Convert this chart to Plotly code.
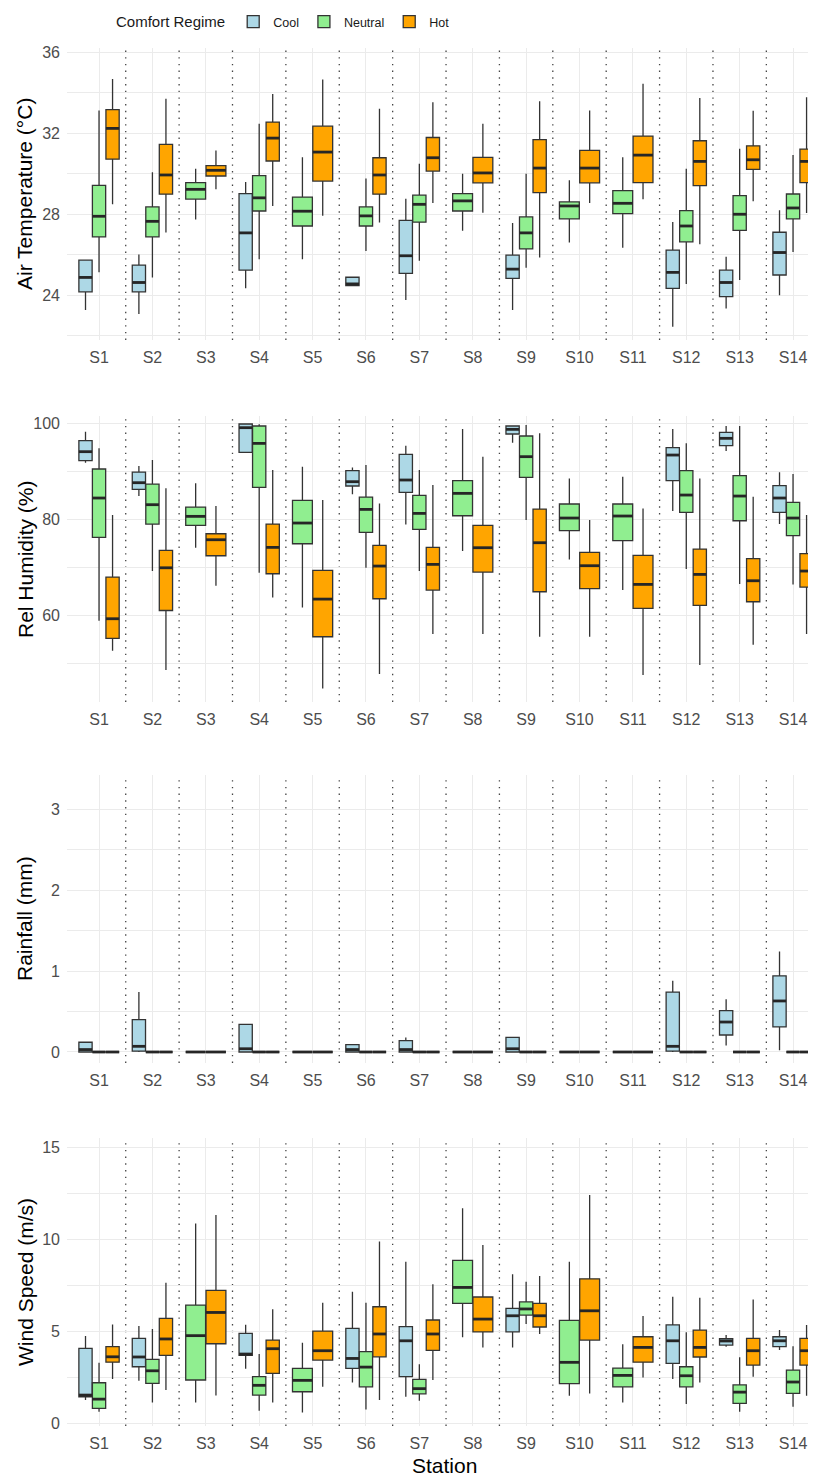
import plotly.graph_objects as go

# ---------------- data ----------------
stations = [f"S{i}" for i in range(1, 15)]
regimes = ["Cool", "Neutral", "Hot"]
regime_colors = {"Cool": "#ADD8E6", "Neutral": "#90EE90", "Hot": "#FFA500"}

# each entry: (lower whisker, Q1, median, Q3, upper whisker); None = regime absent at station
temp_cool = [(23.26, 24.16, 24.87, 25.72, 25.72), (23.06, 24.16, 24.62, 25.48, 26.00), None,
             (24.33, 25.23, 27.07, 29.01, 29.58), None, (24.47, 24.47, 24.55, 24.88, 24.88),
             (23.75, 25.07, 25.94, 27.69, 28.76), None, (23.26, 24.82, 25.28, 25.97, 27.56),
             None, None, (22.44, 24.33, 25.12, 26.22, 27.61), (23.34, 23.92, 24.62, 25.23, 25.89),
             (23.99, 24.99, 26.10, 27.10, 28.19)]
temp_neutral = [(25.12, 26.87, 27.89, 29.42, 33.11), (24.87, 26.87, 27.64, 28.35, 30.07),
                (27.73, 28.74, 29.22, 29.55, 30.24), (25.77, 28.15, 28.80, 29.90, 32.46),
                (25.77, 27.41, 28.14, 28.84, 30.81), (26.18, 27.41, 27.91, 28.35, 29.75),
                (25.69, 27.60, 28.48, 28.93, 30.49), (27.17, 28.15, 28.65, 29.01, 29.99),
                (25.35, 26.28, 27.07, 27.86, 29.99), (26.59, 27.76, 28.40, 28.60, 29.67),
                (26.34, 28.02, 28.53, 29.16, 30.81), (24.54, 26.63, 27.41, 28.17, 30.24),
                (24.74, 27.19, 27.99, 28.91, 31.23), (26.12, 27.76, 28.30, 28.99, 30.92)]
temp_hot = [(28.48, 30.71, 32.23, 33.16, 34.67), (27.09, 28.98, 29.93, 31.44, 33.69),
            (29.22, 29.88, 30.16, 30.39, 31.14), (28.40, 30.62, 31.75, 32.54, 33.93),
            (27.91, 29.63, 31.06, 32.34, 34.64), (27.58, 28.98, 29.93, 30.78, 33.20),
            (28.55, 30.12, 30.78, 31.78, 33.52), (28.07, 29.54, 30.03, 30.80, 32.46),
            (25.86, 29.06, 30.27, 31.68, 33.57), (28.55, 29.54, 30.27, 31.14, 33.11),
            (28.73, 29.55, 30.91, 31.85, 34.43), (26.51, 29.40, 30.60, 31.62, 33.73),
            (28.63, 30.21, 30.68, 31.37, 33.10), (28.05, 29.55, 30.60, 31.21, 33.77)]

rh_cool = [(91.73, 92.15, 94.03, 96.32, 98.19), (84.79, 86.18, 87.57, 89.79, 91.04), None,
           (93.89, 93.89, 99.03, 99.79, 99.79), None, (85.14, 86.88, 87.78, 90.07, 90.76),
           (78.89, 85.56, 88.13, 93.47, 95.28), None, (95.90, 97.71, 98.68, 99.38, 99.38),
           None, None, (81.67, 87.99, 93.33, 94.86, 98.75), (94.17, 95.28, 96.81, 98.06, 99.38),
           (78.96, 81.39, 84.38, 86.94, 89.72)]
rh_neutral = [(58.82, 76.18, 84.38, 90.42, 94.72), (69.17, 78.96, 82.99, 87.29, 92.29),
              (74.03, 78.68, 80.56, 82.50, 87.43), (68.82, 86.60, 95.76, 99.38, 99.72),
              (61.60, 74.86, 79.17, 83.89, 90.90), (69.86, 77.22, 82.01, 84.58, 91.25),
              (69.17, 77.85, 81.18, 84.93, 90.21), (73.33, 80.69, 85.35, 87.99, 98.75),
              (79.79, 88.68, 92.99, 97.29, 99.58), (71.60, 77.57, 80.21, 83.13, 88.47),
              (65.21, 75.49, 80.63, 83.13, 88.82), (69.58, 81.39, 85.00, 90.07, 95.76),
              (66.46, 79.65, 84.79, 89.03, 99.38), (66.39, 76.53, 80.21, 83.47, 89.38)]
rh_hot = [(52.57, 55.14, 59.24, 67.92, 80.83), (48.54, 60.96, 69.85, 73.48, 86.39),
          (66.11, 72.36, 75.69, 76.94, 82.71), (63.68, 68.61, 74.10, 78.96, 90.21),
          (44.72, 55.49, 63.33, 69.30, 83.96), (47.71, 63.40, 70.21, 74.51, 83.26),
          (56.04, 65.21, 70.56, 74.10, 87.08), (56.04, 68.96, 74.03, 78.68, 92.99),
          (55.49, 64.86, 75.07, 82.08, 97.85), (55.49, 65.49, 70.28, 73.06, 79.79),
          (47.50, 61.39, 66.39, 72.43, 82.22), (49.58, 62.01, 68.47, 73.75, 88.47),
          (53.82, 62.78, 67.15, 71.74, 84.65), (56.04, 65.83, 69.17, 72.78, 80.83)]

rain_cool = [(0.0, 0.0, 0.03, 0.12, 0.12), (0.0, 0.01, 0.07, 0.40, 0.74), None,
             (0.0, 0.0, 0.04, 0.34, 0.34), None, (0.0, 0.0, 0.03, 0.09, 0.09),
             (0.0, 0.0, 0.03, 0.14, 0.18), None, (0.0, 0.0, 0.04, 0.18, 0.18),
             None, None, (0.0, 0.01, 0.07, 0.74, 0.88), (0.08, 0.21, 0.37, 0.51, 0.65),
             (0.02, 0.31, 0.63, 0.94, 1.24)]
rain_neutral = [(0.0, 0.0, 0.0, 0.0, 0.0)] * 14
rain_hot = [(0.0, 0.0, 0.0, 0.0, 0.0)] * 14

wind_cool = [(1.25, 1.43, 1.52, 4.06, 4.73), (2.30, 3.06, 3.59, 4.60, 5.27), None,
             (2.95, 3.68, 3.75, 4.87, 5.34), None, (2.21, 2.97, 3.51, 5.14, 7.14),
             (1.43, 2.52, 4.47, 5.24, 8.77), None, (4.11, 4.96, 5.83, 6.23, 8.08),
             None, None, (2.39, 3.24, 4.47, 5.33, 6.86), (4.15, 4.24, 4.46, 4.58, 4.78),
             (3.97, 4.15, 4.47, 4.69, 5.05)]
wind_neutral = [(0.62, 0.80, 1.30, 2.19, 3.28), (1.12, 2.16, 2.84, 3.46, 5.11),
                (1.12, 2.34, 4.75, 6.41, 10.85), (0.67, 1.52, 2.05, 2.52, 3.75),
                (0.58, 1.70, 2.32, 2.97, 4.37), (0.74, 1.97, 3.04, 3.88, 6.54),
                (1.21, 1.59, 1.87, 2.37, 3.19), (4.66, 6.50, 7.37, 8.84, 11.67),
                (5.38, 5.87, 6.20, 6.58, 7.68), (1.49, 2.14, 3.30, 5.58, 8.77),
                (1.12, 1.97, 2.59, 2.99, 4.28), (1.03, 1.97, 2.57, 3.06, 4.93),
                (0.62, 1.07, 1.68, 2.07, 3.57), (0.89, 1.61, 2.23, 2.88, 4.18)]
wind_hot = [(2.39, 3.31, 3.60, 4.15, 5.36), (1.79, 3.68, 4.57, 5.69, 7.63),
            (1.50, 4.31, 6.01, 7.21, 11.30), (1.12, 2.70, 4.04, 4.51, 6.18),
            (1.97, 3.42, 3.93, 5.00, 6.54), (1.25, 3.60, 4.84, 6.32, 9.86),
            (2.34, 3.95, 4.84, 5.60, 7.54), (4.11, 4.95, 5.65, 6.85, 9.67),
            (4.84, 5.22, 5.83, 6.50, 7.99), (1.61, 4.51, 6.10, 7.84, 12.39),
            (2.48, 3.31, 4.11, 4.69, 5.82), (2.21, 3.59, 4.11, 5.05, 6.81),
            (2.52, 3.15, 3.93, 4.60, 6.72), (1.49, 3.15, 3.93, 4.60, 5.33)]

y_titles = ["Air Temperature (°C)", "Rel Humidity (%)", "Rainfall (mm)", "Wind Speed (m/s)"]
panel_data = [
    {"Cool": temp_cool, "Neutral": temp_neutral, "Hot": temp_hot},
    {"Cool": rh_cool, "Neutral": rh_neutral, "Hot": rh_hot},
    {"Cool": rain_cool, "Neutral": rain_neutral, "Hot": rain_hot},
    {"Cool": wind_cool, "Neutral": wind_neutral, "Hot": wind_hot},
]

# ---------------- layout parameters ----------------
PAGE_PAD = 8                       # the browser's default body margin
W, H = 816 - PAGE_PAD, 1478 - PAGE_PAD
ML = 67 - PAGE_PAD                 # left edge of the panels
PW = W - ML


def py(v):
    """page pixel row -> paper fraction"""
    return 1 - (v - PAGE_PAD) / H


def px(v):
    """page pixel column -> paper fraction"""
    return (v - PAGE_PAD - ML) / PW


panel_px = [(48, 340), (416, 702), (775, 1063), (1138, 1426)]   # top, bottom (page px)
y_ranges = [(21.78, 36.2), (41.9, 101.46), (-0.136, 3.42), (-0.16, 15.49)]
y_dticks = [4, 20, 1, 5]
DODGE = 0.76
FONT = "Liberation Sans, Arial, sans-serif"
GRID = "#EBEBEB"
OUTLINE = "#333333"

fig = go.Figure()
shown = set()
for p, data in enumerate(panel_data):
    ax = "" if p == 0 else str(p + 1)
    xr, yr = "x" + ax, "y" + ax
    med_x, med_y = [], []
    for s in range(len(stations)):
        present = [r for r in regimes if data[r][s] is not None]
        n = len(present)
        bw = DODGE / n
        for k, r in enumerate(present):
            lo, q1, md, q3, hi = data[r][s]
            pos = (s + 1) - DODGE / 2 + (k + 0.5) * bw
            fig.add_trace(go.Box(
                x=[pos], lowerfence=[lo], q1=[q1], median=[md], q3=[q3], upperfence=[hi],
                width=bw * 0.98, whiskerwidth=0, boxpoints=False,
                fillcolor=regime_colors[r], line=dict(color=OUTLINE, width=1.3),
                name=r, legendgroup=r, showlegend=(r not in shown),
                xaxis=xr, yaxis=yr, hoverinfo="skip"))
            shown.add(r)
            med_x += [pos - bw * 0.49, pos + bw * 0.49, None]
            med_y += [md, md, None]
    fig.add_trace(go.Scatter(x=med_x, y=med_y, mode="lines",
                             line=dict(color="#262626", width=2.8),
                             showlegend=False, hoverinfo="skip", xaxis=xr, yaxis=yr))

layout = dict(
    width=W, height=H, margin=dict(l=ML, r=0, t=0, b=0, autoexpand=False),
    paper_bgcolor="white", plot_bgcolor="white", boxmode="overlay",
    font=dict(family=FONT, color="#000000"),
    legend=dict(orientation="h", x=px(114), xanchor="left",
                y=py(7), yanchor="top", itemwidth=30, tracegroupgap=0,
                title=dict(text="Comfort Regime", side="left",
                           font=dict(family=FONT, size=15, color="#1a1a1a")),
                font=dict(family=FONT, size=12.5, color="#1a1a1a"),
                bgcolor="rgba(0,0,0,0)"),
    shapes=[], annotations=[],
)

for p in range(4):
    ax = "" if p == 0 else str(p + 1)
    top, bot = panel_px[p]
    layout["xaxis" + ax] = dict(
        domain=[0, 1], anchor="y" + ax, range=[0.4, 14.43], automargin=False,
        tickmode="array", tickvals=list(range(1, 15)), ticktext=stations,
        showgrid=True, gridcolor=GRID, gridwidth=1, zeroline=False, showline=False,
        ticks="", ticklabelstandoff=6,
        tickfont=dict(family=FONT, size=16, color="#4D4D4D"))
    layout["yaxis" + ax] = dict(
        domain=[py(bot), py(top)], anchor="x" + ax, range=list(y_ranges[p]),
        automargin=False,
        tick0=0, dtick=y_dticks[p], showgrid=True, gridcolor=GRID, gridwidth=1,
        minor=dict(tick0=0, dtick=y_dticks[p] / 2, showgrid=True, gridcolor=GRID, gridwidth=0.6),
        zeroline=False, showline=False, ticks="", ticklabelstandoff=6,
        tickfont=dict(family=FONT, size=16, color="#4D4D4D"))
    # dotted separators between stations
    for s in range(1, len(stations)):
        layout["shapes"].append(dict(
            type="line", xref="x" + ax, yref="y" + ax + " domain",
            x0=s + 0.5, x1=s + 0.5, y0=0, y1=1, layer="below",
            line=dict(color="#444444", width=1.3, dash="1.4px,5.3px")))
    layout["annotations"].append(dict(
        text=y_titles[p], textangle=-90, xref="paper", yref="paper",
        x=px(25), y=py((top + bot) / 2),
        xanchor="center", yanchor="middle", showarrow=False,
        font=dict(family=FONT, size=21, color="#000000")))

layout["annotations"].append(dict(
    text="Station", xref="paper", yref="paper", x=px(445), y=py(1465),
    xanchor="center", yanchor="middle", showarrow=False,
    font=dict(family=FONT, size=21, color="#000000")))

fig.update_layout(**layout)
fig.write_html("out.html")
